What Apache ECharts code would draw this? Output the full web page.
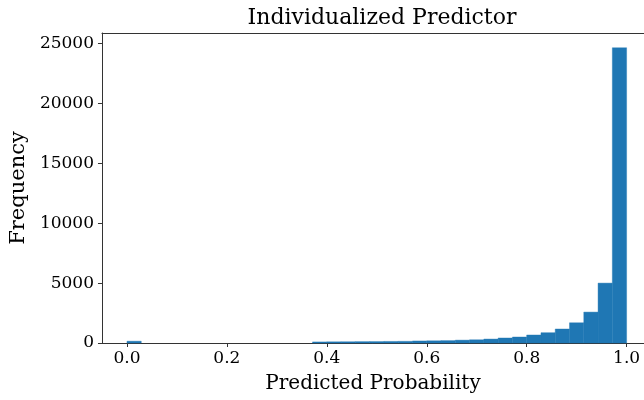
<!DOCTYPE html>
<html>
<head>
<meta charset="utf-8">
<script src="https://cdn.jsdelivr.net/npm/echarts@6/dist/echarts.min.js"></script>
<style>
html,body{margin:0;padding:0;background:#fff;}
#c{width:644px;height:400px;}
</style>
</head>
<body>
<div id="c"></div>
<script>
// Histogram of predicted probabilities: 35 equal bins between 0 and 1
const binLow = 0;
const binHigh = 1;
const binCounts = [150, 0, 0, 0, 0, 0, 0, 0, 0, 0, 0, 0, 0,
  90, 100, 105, 115, 120, 130, 140,
  170, 185, 200,
  240, 270,
  330, 420, 500, 670, 860, 1170, 1690, 2580, 5000, 24650];
const xTicks = [0.0, 0.2, 0.4, 0.6, 0.8, 1.0];
const yTicks = [0, 5000, 10000, 15000, 20000, 25000];
const titleText = 'Individualized Predictor';
const xName = 'Predicted Probability';
const yName = 'Frequency';

const n = binCounts.length;
const w = (binHigh - binLow) / n;
const bins = binCounts.map((c, i) => [binLow + i * w, binLow + (i + 1) * w, c]);
const ymax = Math.max(...binCounts) * 1.05;

const FONT = 'DejaVu Serif';
const chart = echarts.init(document.getElementById('c'), null, {renderer: 'canvas'});
chart.setOption({
  animation: false,
  backgroundColor: '#fff',
  title: {
    text: titleText, left: 377, top: 2, textAlign: 'center',
    textStyle: {fontFamily: FONT, fontSize: 22, fontWeight: 'normal', color: '#000'}
  },
  grid: {left: 101, right: 0, top: 33, bottom: 57, containLabel: false},
  xAxis: [{
    type: 'value', min: -0.05, max: 1.0348,
    axisLine: {show: true, onZero: false, lineStyle: {color: '#333', width: 1}},
    axisTick: {show: true, length: 4, customValues: xTicks, lineStyle: {color: '#333'}},
    axisLabel: {customValues: xTicks, formatter: v => v.toFixed(1), fontFamily: FONT, fontSize: 17, color: '#000', margin: 7},
    splitLine: {show: false},
    name: xName, nameLocation: 'middle', nameGap: 31,
    nameTextStyle: {fontFamily: FONT, fontSize: 20, color: '#000'}
  }, {
    type: 'value', position: 'top', min: -0.05, max: 1.0348,
    axisLine: {show: true, onZero: false, lineStyle: {color: '#333', width: 1}},
    axisTick: {show: false}, axisLabel: {show: false}, splitLine: {show: false}
  }],
  yAxis: {
    type: 'value', min: 0, max: ymax,
    axisLine: {show: true, onZero: false, lineStyle: {color: '#333', width: 1}},
    axisTick: {show: true, length: 4, customValues: yTicks, lineStyle: {color: '#333'}},
    axisLabel: {customValues: yTicks, formatter: v => String(v), fontFamily: FONT, fontSize: 17, color: '#000', margin: 8},
    splitLine: {show: false},
    name: yName, nameLocation: 'middle', nameGap: 68,
    nameTextStyle: {fontFamily: FONT, fontSize: 21, color: '#000'}
  },
  series: [{
    type: 'custom',
    xAxisIndex: 0,
    data: bins,
    renderItem: function (params, api) {
      if (!(api.value(2) > 0)) return null;
      const p0 = api.coord([api.value(0), 0]);
      const p1 = api.coord([api.value(1), api.value(2)]);
      return {
        type: 'rect',
        shape: {x: p0[0], y: p1[1], width: p1[0] - p0[0], height: p0[1] - p1[1]},
        style: {fill: '#1f77b4', stroke: '#1f77b4', lineWidth: 0.4}
      };
    }
  }]
});
</script>
</body>
</html>
